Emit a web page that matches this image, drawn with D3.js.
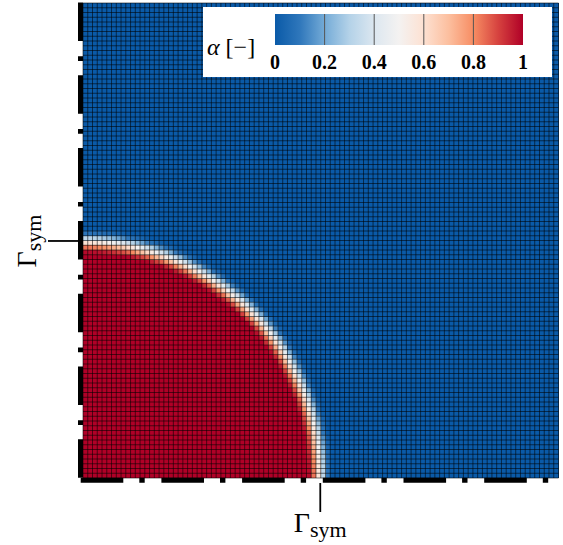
<!DOCTYPE html>
<html>
<head>
<meta charset="utf-8">
<script src="https://cdn.jsdelivr.net/npm/d3@7"></script>
<style>
  html, body { margin: 0; padding: 0; background: #fff; }
  svg { display: block; }
</style>
</head>
<body>
<svg id="chart" width="563" height="545"></svg>
<script>
// ---- data ----
const nCells = 100;                 // cells per side of the mesh
const interfaceRadius = 49.9;       // radius of the droplet interface, in cells
const profileDistance = [-2.5, -1.5, -0.5, 0.5, 1.5, 2.5];   // signed distance from interface (cells)
const profileAlpha    = [1, 0.86, 0.62, 0.35, 0.1, 0];        // alpha across the interface
const colorStops  = [0, 0.1, 0.2, 0.3, 0.4, 0.5, 0.6, 0.7, 0.8, 0.9, 1];
const colorValues = ["#0a5aa8", "#2f77bb", "#74abd7", "#b4d2e8", "#dce7f0", "#f4f2f1",
                     "#fde1d2", "#fcbf9f", "#f78d63", "#d6423f", "#b00027"];
const cbTicks = [0, 0.2, 0.4, 0.6, 0.8, 1];
const cbTickLabels = ["0", "0.2", "0.4", "0.6", "0.8", "1"];
const symLabel = "Γ";
const symSub = "sym";

// ---- layout ----
const svg = d3.select("#chart");
const x = d3.scaleLinear().domain([0, nCells]).range([83, 558.5]);
const y = d3.scaleLinear().domain([0, nCells]).range([478, 3]);
const color = d3.scaleLinear().domain(colorStops).range(colorValues).interpolate(d3.interpolateRgb).clamp(true);
const profile = d3.scaleLinear().domain(profileDistance).range(profileAlpha).clamp(true);

// cells
const cells = [];
for (let i = 0; i < nCells; i++) {
  for (let j = 0; j < nCells; j++) {
    const r = Math.hypot(i + 0.5, j + 0.5);
    cells.push({ i, j, a: profile(r - interfaceRadius) });
  }
}
svg.append("g").selectAll("rect").data(cells).join("rect")
  .attr("x", d => x(d.i))
  .attr("y", d => y(d.j + 1))
  .attr("width", x(1) - x(0) + 0.05)
  .attr("height", y(0) - y(1) + 0.05)
  .attr("fill", d => color(d.a))
  .attr("shape-rendering", "crispEdges");

// mesh lines
const idx = d3.range(nCells + 1);
const mesh = svg.append("g").attr("stroke", "#000").attr("stroke-opacity", 0.62).attr("stroke-width", 0.9);
mesh.selectAll("line.v").data(idx).join("line").attr("class", "v")
  .attr("x1", d => x(d)).attr("x2", d => x(d)).attr("y1", y(0)).attr("y2", y(nCells));
mesh.selectAll("line.h").data(idx).join("line").attr("class", "h")
  .attr("y1", d => y(d)).attr("y2", d => y(d)).attr("x1", x(0)).attr("x2", x(nCells));

// dash-dot symmetry boundaries
svg.append("line")
  .attr("x1", 80.5).attr("x2", 80.5).attr("y1", 2.5).attr("y2", y(0))
  .attr("stroke", "#000").attr("stroke-width", 5)
  .attr("stroke-dasharray", "38.5 15.3 4.7 14.3");
svg.append("line")
  .attr("x1", 80.7).attr("x2", x(nCells)).attr("y1", 480.2).attr("y2", 480.2)
  .attr("stroke", "#000").attr("stroke-width", 5)
  .attr("stroke-dasharray", "42.6 16 5.4 16.7");

// symmetry ticks & labels
const leftTickY = y(interfaceRadius);
const bottomTickX = x(interfaceRadius);
svg.append("line").attr("x1", 48).attr("x2", 79).attr("y1", leftTickY).attr("y2", leftTickY)
  .attr("stroke", "#000").attr("stroke-width", 1.8);
svg.append("line").attr("x1", bottomTickX).attr("x2", bottomTickX).attr("y1", 483).attr("y2", 512)
  .attr("stroke", "#000").attr("stroke-width", 1.8);

function symText(g) {
  const t = g.append("text")
    .attr("font-family", "Liberation Serif, Times New Roman, serif")
    .attr("font-size", 28)
    .attr("text-anchor", "middle")
    .attr("fill", "#000");
  t.append("tspan").text(symLabel);
  t.append("tspan").attr("font-size", 22).attr("dy", 5).text(symSub);
}
symText(svg.append("g").attr("transform", `translate(${bottomTickX},532)`));
symText(svg.append("g").attr("transform", `translate(36,${leftTickY}) rotate(-90)`));

// colorbar legend
const legend = svg.append("g");
legend.append("rect").attr("x", 203).attr("y", 7).attr("width", 349).attr("height", 70).attr("fill", "#fff");
const defs = svg.append("defs");
const grad = defs.append("linearGradient").attr("id", "cb").attr("x1", "0%").attr("x2", "100%");
grad.selectAll("stop").data(colorStops).join("stop")
  .attr("offset", d => (d * 100) + "%")
  .attr("stop-color", (d, k) => colorValues[k]);
const cbx = d3.scaleLinear().domain([0, 1]).range([275, 523]);
legend.append("rect").attr("x", cbx(0)).attr("y", 14).attr("width", cbx(1) - cbx(0)).attr("height", 31)
  .attr("fill", "url(#cb)");
legend.selectAll("line.div").data(cbTicks.slice(1, -1)).join("line").attr("class", "div")
  .attr("x1", d => cbx(d)).attr("x2", d => cbx(d)).attr("y1", 14).attr("y2", 45)
  .attr("stroke", "#555").attr("stroke-width", 1);
legend.selectAll("text.tl").data(cbTicks).join("text").attr("class", "tl")
  .attr("x", d => cbx(d)).attr("y", 69)
  .attr("text-anchor", "middle")
  .attr("font-family", "Liberation Serif, Times New Roman, serif")
  .attr("font-weight", "bold").attr("font-size", 20)
  .text((d, k) => cbTickLabels[k]);
const at = legend.append("text").attr("x", 207).attr("y", 55)
  .attr("font-family", "Liberation Serif, Times New Roman, serif").attr("font-size", 24);
at.append("tspan").attr("font-style", "italic").text("α");
at.append("tspan").text(" [−]");
</script>
</body>
</html>
